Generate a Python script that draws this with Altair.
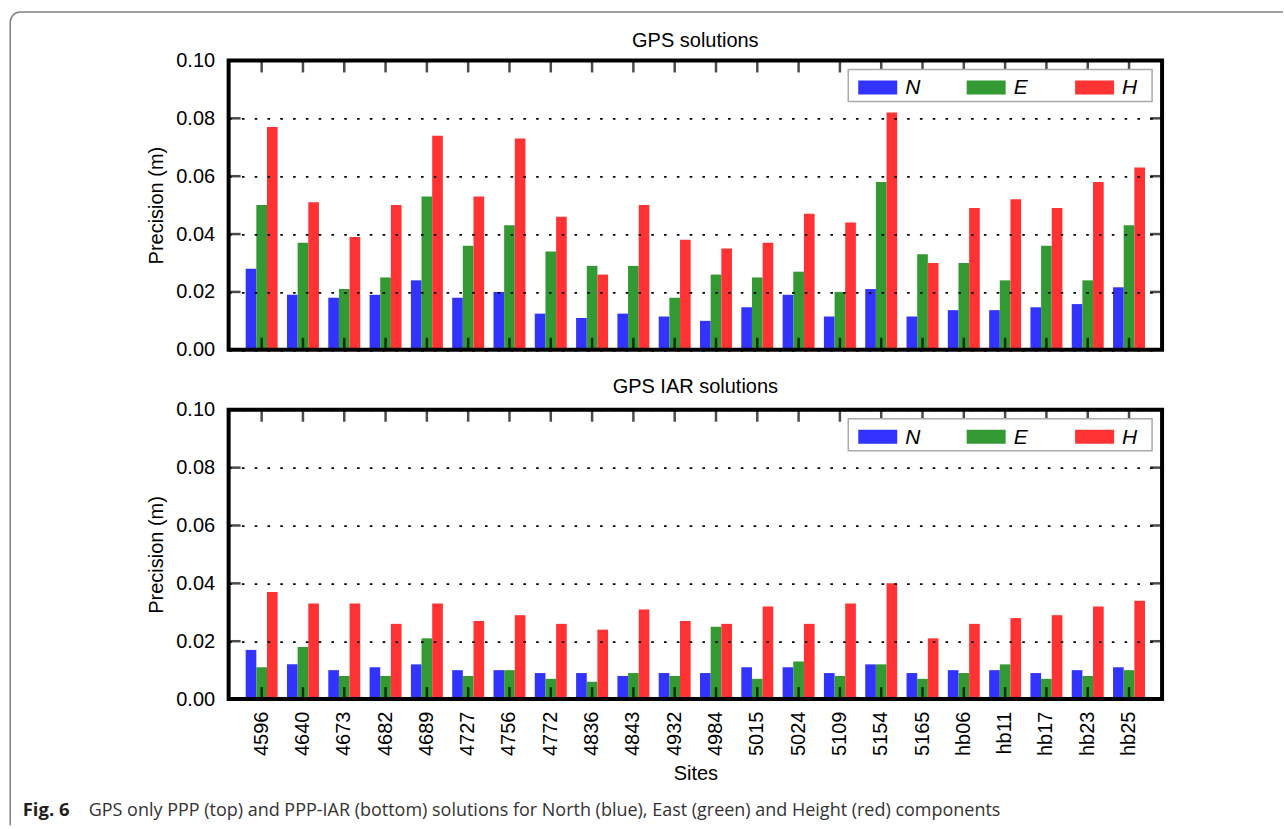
import altair as alt
import pandas as pd

# Station identifiers (x categories)
sites = ["4596", "4640", "4673", "4682", "4689", "4727", "4756", "4772", "4836",
         "4843", "4932", "4984", "5015", "5024", "5109", "5154", "5165",
         "hb06", "hb11", "hb17", "hb23", "hb25"]

# Components and their colours
comps = ["N", "E", "H"]
comp_colors = ["#3333ff", "#339933", "#ff3333"]

# GPS-only PPP precision (m)
ppp_n = [0.028, 0.019, 0.018, 0.019, 0.024, 0.018, 0.020, 0.0125, 0.011, 0.0125, 0.0115,
         0.010, 0.0147, 0.019, 0.0115, 0.021, 0.0115, 0.0137, 0.0137, 0.0147, 0.0158, 0.0216]
ppp_e = [0.050, 0.037, 0.021, 0.025, 0.053, 0.036, 0.043, 0.034, 0.029, 0.029, 0.018,
         0.026, 0.025, 0.027, 0.020, 0.058, 0.033, 0.030, 0.024, 0.036, 0.024, 0.043]
ppp_h = [0.077, 0.051, 0.039, 0.050, 0.074, 0.053, 0.073, 0.046, 0.026, 0.050, 0.038,
         0.035, 0.037, 0.047, 0.044, 0.082, 0.030, 0.049, 0.052, 0.049, 0.058, 0.063]

# GPS PPP-IAR precision (m)
iar_n = [0.017, 0.012, 0.010, 0.011, 0.012, 0.010, 0.010, 0.009, 0.009, 0.008, 0.009,
         0.009, 0.011, 0.011, 0.009, 0.012, 0.009, 0.010, 0.010, 0.009, 0.010, 0.011]
iar_e = [0.011, 0.018, 0.008, 0.008, 0.021, 0.008, 0.010, 0.007, 0.006, 0.009, 0.008,
         0.025, 0.007, 0.013, 0.008, 0.012, 0.007, 0.009, 0.012, 0.007, 0.008, 0.010]
iar_h = [0.037, 0.033, 0.033, 0.026, 0.033, 0.027, 0.029, 0.026, 0.024, 0.031, 0.027,
         0.026, 0.032, 0.026, 0.033, 0.040, 0.021, 0.026, 0.028, 0.029, 0.032, 0.034]

# Axis values
y_labels = [0.0, 0.02, 0.04, 0.06, 0.08, 0.10]
y_ticks = [0.02, 0.04, 0.06, 0.08]

panel_titles = ["GPS solutions", "GPS IAR solutions"]
caption_bold = "Fig. 6"
caption_text = ("GPS only PPP (top) and PPP-IAR (bottom) solutions for North (blue), "
                "East (green) and Height (red) components")

# Layout (pixels)
PW, PH = 934, 289.5
TICK = 12
FONT = "Liberation Sans"
CAP_FONT = "Open Sans"

color_scale = alt.Scale(domain=comps, range=comp_colors)
one = pd.DataFrame({"k": [0]})


def x_enc(bottom):
    axis = None
    if bottom:
        axis = alt.Axis(labelAngle=270, labelFont=FONT, labelFontSize=20, labelColor="black",
                        labelPadding=12, ticks=False, domain=False, grid=False,
                        title="Sites", titleFont=FONT, titleFontSize=20,
                        titleFontWeight="normal", titleColor="black", titlePadding=8)
    return alt.X("site:N", sort=sites,
                 scale=alt.Scale(paddingInner=0.226, paddingOuter=0.413),
                 axis=axis)


def y_enc():
    return alt.Y("val:Q",
                 scale=alt.Scale(domain=[0, 0.1], nice=False, zero=True),
                 axis=alt.Axis(values=y_labels, format=".2f", grid=True,
                               gridColor="black", gridDash=[2.6, 10.2], gridWidth=1.8,
                               gridOpacity=1, domain=False, ticks=False,
                               labelFont=FONT, labelFontSize=20, labelColor="black",
                               labelPadding=14, title="Precision (m)", titleFont=FONT,
                               titleFontSize=20, titleFontWeight="normal",
                               titleColor="black", titlePadding=9, zindex=1))


def panel(title, title_offset, n, e, h, bottom):
    df = pd.DataFrame({
        "site": sites * 3,
        "comp": ["N"] * len(sites) + ["E"] * len(sites) + ["H"] * len(sites),
        "val": n + e + h,
    })
    bars = alt.Chart(df).mark_bar().encode(
        x=x_enc(bottom),
        xOffset=alt.XOffset("comp:N", sort=comps,
                            scale=alt.Scale(paddingInner=0, paddingOuter=0)),
        y=y_enc(),
        color=alt.Color("comp:N", scale=color_scale, legend=None),
    )

    xt = pd.DataFrame({"site": sites})
    yt = pd.DataFrame({"val": y_ticks})
    tick_style = dict(color="black", thickness=2.5, size=TICK)
    top_ticks = alt.Chart(xt).mark_tick(orient="vertical", **tick_style).encode(
        x=x_enc(bottom), y=alt.value(TICK / 2))
    bot_ticks = alt.Chart(xt).mark_tick(orient="vertical", **tick_style).encode(
        x=x_enc(bottom), y=alt.value(PH - TICK / 2))
    left_ticks = alt.Chart(yt).mark_tick(orient="horizontal", **tick_style).encode(
        y=y_enc(), x=alt.value(TICK / 2))
    right_ticks = alt.Chart(yt).mark_tick(orient="horizontal", **tick_style).encode(
        y=y_enc(), x=alt.value(PW - TICK / 2))

    frame = alt.Chart(one).mark_rect(filled=False, stroke="black", strokeWidth=4).encode(
        x=alt.value(0), x2=alt.value(PW), y=alt.value(0), y2=alt.value(PH))

    heading = alt.Chart(one).mark_text(
        text=title, font=FONT, fontSize=20, color="black",
        align="center", baseline="alphabetic").encode(
        x=alt.value(PW / 2), y=alt.value(-title_offset))

    # in-plot legend
    lx0, lstep = 630, 108.5
    layers = [bars, top_ticks, bot_ticks, left_ticks, right_ticks, frame, heading]
    layers.append(alt.Chart(one).mark_rect(fill="white", stroke="#aaaaaa", strokeWidth=1.5).encode(
        x=alt.value(620), x2=alt.value(924), y=alt.value(9), y2=alt.value(41)))
    for i, c in enumerate(comps):
        layers.append(alt.Chart(one).mark_rect(color=comp_colors[i]).encode(
            x=alt.value(lx0 + i * lstep), x2=alt.value(lx0 + i * lstep + 39),
            y=alt.value(20), y2=alt.value(34)))
        layers.append(alt.Chart(one).mark_text(
            text=c, font=FONT, fontSize=21, fontStyle="italic", color="black",
            align="left", baseline="alphabetic").encode(
            x=alt.value(lx0 + i * lstep + 47), y=alt.value(34)))

    if bottom:
        # caption
        layers.append(alt.Chart(one).mark_text(
            text=caption_bold, font=CAP_FONT, fontSize=18.5, fontWeight="bold",
            color="#231f20", align="left", baseline="alphabetic").encode(
            x=alt.value(-206), y=alt.value(406)))
        layers.append(alt.Chart(one).mark_text(
            text=caption_text, font=CAP_FONT, fontSize=18, color="#333333",
            align="left", baseline="alphabetic").encode(
            x=alt.value(-140), y=alt.value(406)))
        # rounded page border (top edge, left edge, corner)
        grey = "#808080"
        layers.append(alt.Chart(one).mark_rule(color=grey, strokeWidth=1.5).encode(
            x=alt.value(-208.5), x2=alt.value(1055), y=alt.value(-398)))
        layers.append(alt.Chart(one).mark_rule(color=grey, strokeWidth=1.5).encode(
            x=alt.value(-218.5), y=alt.value(-388), y2=alt.value(416)))
        layers.append(alt.Chart(one).mark_arc(
            color=grey, radius=10.75, radius2=9.25, theta=4.7124, theta2=6.2832).encode(
            x=alt.value(-208.5), y=alt.value(-388)))

    return alt.layer(*layers).properties(width=PW, height=PH)


top = panel(panel_titles[0], 13, ppp_n, ppp_e, ppp_h, bottom=False)
bottom = panel(panel_titles[1], 17, iar_n, iar_e, iar_h, bottom=True)

chart = alt.vconcat(top, bottom, spacing=59.5, bounds="flush").properties(
    padding={"left": 8.75, "top": 10.25, "right": 0, "bottom": 0},
    background="white",
).configure_view(stroke=None)

chart.save("out.html", embed_options={"renderer": "svg", "actions": False})
